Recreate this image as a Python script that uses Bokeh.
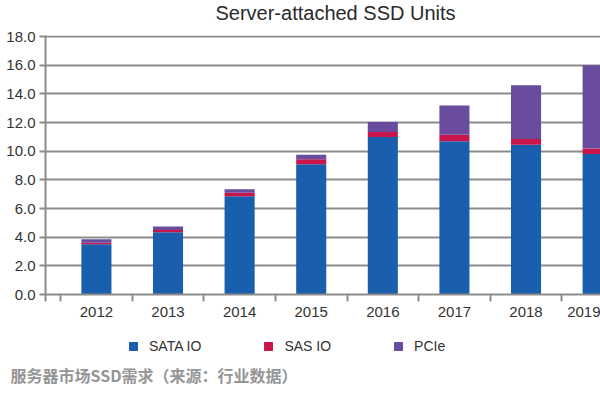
from bokeh.plotting import figure
from bokeh.layouts import column
from bokeh.models import (Range1d, FixedTicker, Legend, LegendItem, Label, Title,
                          ColumnDataSource, PrintfTickFormatter)
from bokeh.embed import file_html
from bokeh.resources import INLINE

# ---- data ----
years = ["2012", "2013", "2014", "2015", "2016", "2017", "2018", "2019"]
sata_io = [3.5, 4.35, 6.85, 9.1, 11.0, 10.7, 10.45, 9.8]
sas_io = [0.12, 0.15, 0.25, 0.35, 0.35, 0.45, 0.4, 0.4]
pcie = [0.23, 0.25, 0.25, 0.3, 0.7, 2.05, 3.75, 5.8]
series_names = ["SATA IO", "SAS IO", "PCIe"]
series_cols = ["sata", "sas", "pcie"]
y_ticks = [0, 2, 4, 6, 8, 10, 12, 14, 16, 18]
title_text = "Server-attached SSD Units"
caption_text = "服务器市场SSD需求（来源：行业数据）"

colors = ["#1a5fad", "#c8154b", "#6a4c9e"]
GRID = "#8c8c8c"
W = 600
LEFT = 45
FW = W - LEFT

x0, x1 = -0.711, 7.04
y0, y1 = 0, 18.08

idx = list(range(len(years)))
src = ColumnDataSource(dict(x=idx, sata=sata_io, sas=sas_io, pcie=pcie))


def blank(**kw):
    f = figure(output_backend="svg", toolbar_location=None,
               x_axis_location=None, y_axis_location=None,
               background_fill_color="white", border_fill_color="white", **kw)
    f.outline_line_color = None
    f.xgrid.visible = False
    f.ygrid.visible = False
    return f


# ---- title strip ----
H_TOP = 26
top = blank(width=W, height=H_TOP, x_range=Range1d(0, 1), y_range=Range1d(0, 1),
            min_border_left=LEFT, min_border_right=0,
            min_border_top=0, min_border_bottom=0)
top.add_layout(Label(x=335 - LEFT, y=H_TOP - 12, x_units="screen", y_units="screen",
                     text=title_text, text_align="center", text_baseline="alphabetic",
                     text_font="Liberation Sans", text_font_size="20px",
                     text_color="#2a2a2a"))

# ---- main chart ----
p = figure(width=W, height=9 + 259 + 32, output_backend="svg", toolbar_location=None,
           x_range=Range1d(x0, x1), y_range=Range1d(y0, y1),
           min_border_left=LEFT, min_border_right=0,
           min_border_top=9, min_border_bottom=32,
           background_fill_color="white", border_fill_color="white")
p.outline_line_color = None

rs = p.vbar_stack(series_cols, x="x", width=0.42, color=colors,
                  line_color=None, source=src)

p.xgrid.visible = False
p.ygrid.ticker = FixedTicker(ticks=y_ticks)
p.ygrid.grid_line_color = GRID
p.ygrid.grid_line_width = 2

p.yaxis.ticker = FixedTicker(ticks=y_ticks)
p.yaxis.formatter = PrintfTickFormatter(format="%.1f")
p.yaxis.axis_line_color = GRID
p.yaxis.axis_line_width = 2
p.yaxis.major_tick_line_color = GRID
p.yaxis.major_tick_line_width = 2
p.yaxis.major_tick_out = 6
p.yaxis.major_tick_in = 0
p.yaxis.minor_tick_line_color = None
p.yaxis.major_label_standoff = 4
p.yaxis.major_label_text_font = "Liberation Sans"
p.yaxis.major_label_text_font_size = "15px"
p.yaxis.major_label_text_color = "#333333"

p.xaxis.ticker = FixedTicker(ticks=idx,
                             minor_ticks=[x0] + [i - 0.5 for i in idx] + [idx[-1] + 0.5])
p.xaxis.major_label_overrides = {i: y for i, y in zip(idx, years)}
p.xaxis.axis_line_color = GRID
p.xaxis.axis_line_width = 2
p.xaxis.major_tick_line_color = None
p.xaxis.minor_tick_line_color = GRID
p.xaxis.minor_tick_line_width = 2
p.xaxis.minor_tick_out = 7
p.xaxis.minor_tick_in = 0
p.xaxis.major_label_standoff = 5
p.xaxis.major_label_text_font = "Liberation Sans"
p.xaxis.major_label_text_font_size = "15px"
p.xaxis.major_label_text_color = "#333333"

# ---- legend + caption strip ----
# legend keys are renderers of the real data whose points fall outside this strip's
# (negative) ranges, so only their legend swatches are seen
F_BOT = 34
bot = blank(frame_width=FW, frame_height=F_BOT,
            x_range=Range1d(-2, -1), y_range=Range1d(-2, -1),
            min_border_left=LEFT, min_border_right=0,
            min_border_top=0, min_border_bottom=0)
keys = [bot.scatter(x="x", y=c, source=src, marker="square",
                    color=col, line_color=col)
        for c, col in zip(series_cols, colors)]
legend = Legend(items=[LegendItem(label=n, renderers=[r]) for n, r in zip(series_names, keys)],
                orientation="horizontal", location=(123 - LEFT, F_BOT - 30),
                glyph_width=20, glyph_height=20, label_height=20,
                label_standoff=6, spacing=57,
                padding=0, margin=0, border_line_alpha=0, background_fill_alpha=0,
                label_text_font="Liberation Sans", label_text_font_size="14px",
                label_text_color="#333333")
bot.add_layout(legend)
bot.add_layout(Title(text=caption_text, align="left", offset=10 - LEFT, standoff=0,
                     text_font="Noto Sans CJK SC", text_font_style="bold",
                     text_font_size="16px", text_color="#959595"), "below")

layout = column(top, p, bot, spacing=0)
open("out.html", "w").write(file_html(layout, INLINE))
